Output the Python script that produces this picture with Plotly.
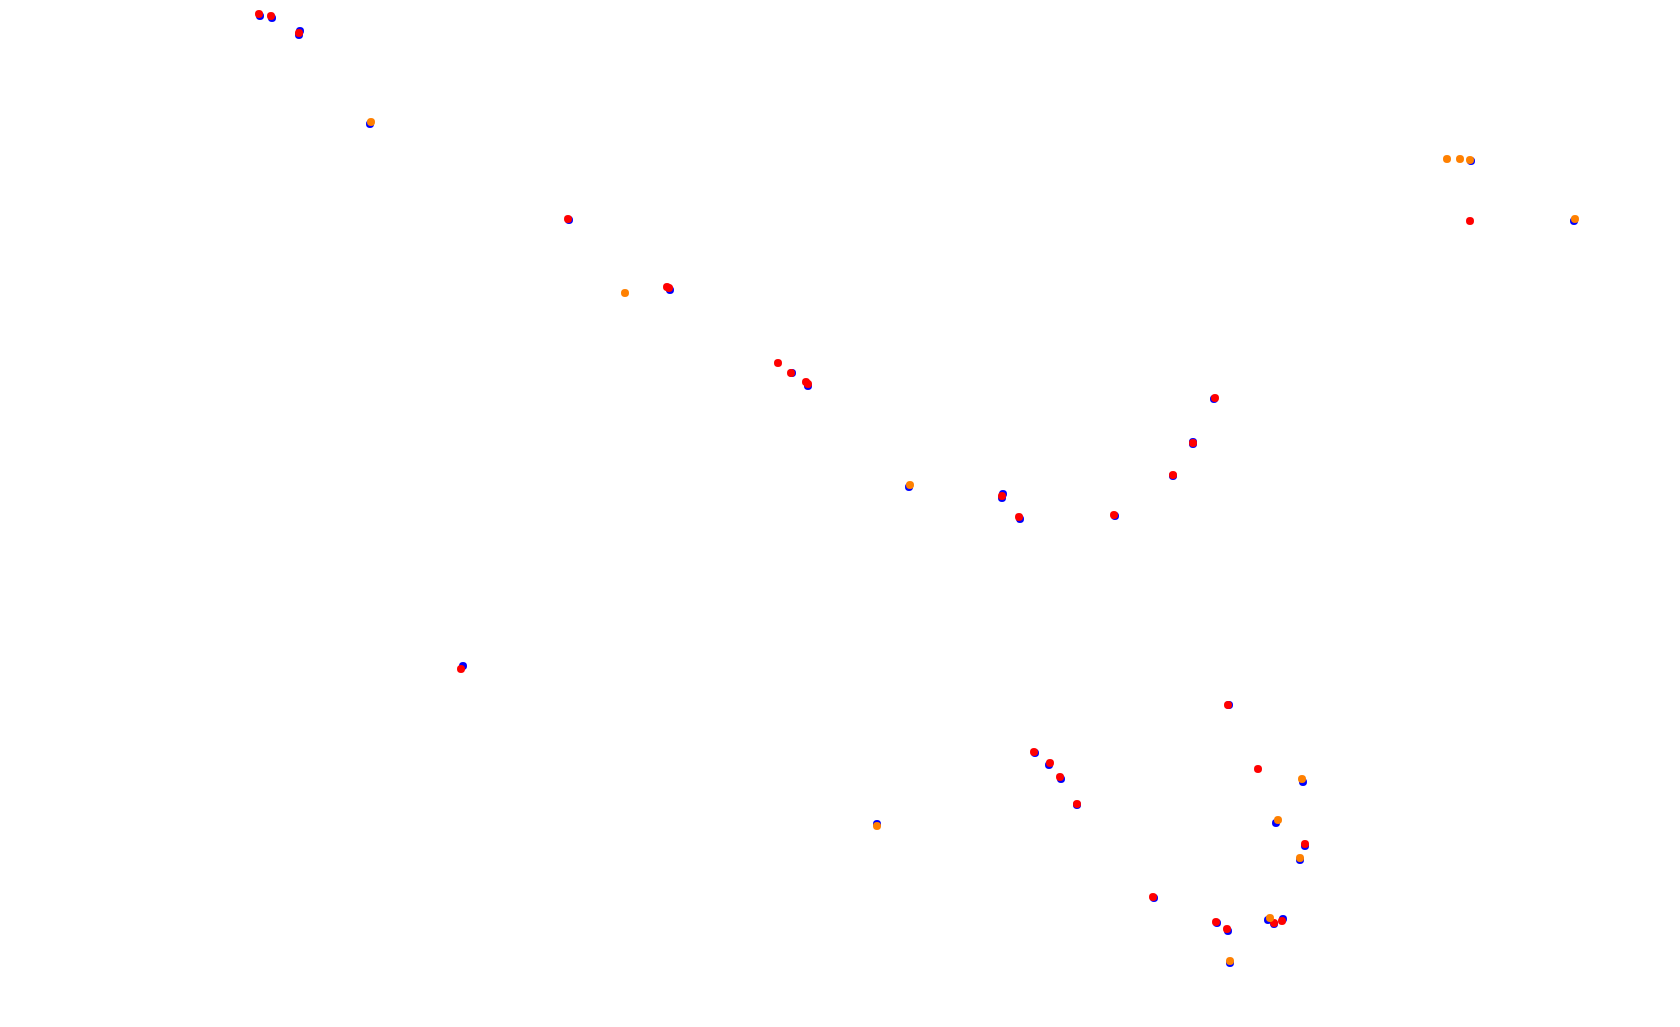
import plotly.graph_objects as go

# Positions (pixel-space coordinates of the 1680x1027 canvas)
blue_x = [260, 272, 300, 299, 370, 569, 670, 792, 808, 909, 1003, 1002, 1020, 1115, 1173, 1193, 1193, 1214,
          1471, 1574, 463, 877, 1035, 1049, 1061, 1077, 1229, 1303, 1276, 1305, 1300, 1154, 1217, 1228, 1268,
          1274, 1283, 1230]
blue_y = [16, 18, 31, 35, 124, 220, 290, 373, 386, 487, 494, 498, 519, 516, 476, 442, 444, 399,
          161, 221, 666, 824, 753, 765, 779, 805, 705, 782, 823, 846, 860, 898, 923, 931, 920,
          924, 919, 963]

red_x = [259, 271, 299, 568, 667, 669, 778, 791, 806, 808, 1002, 1019, 1114, 1173, 1193, 1215, 1470,
         461, 1034, 1050, 1060, 1077, 1228, 1258, 1305, 1153, 1216, 1227, 1274, 1282]
red_y = [14, 16, 33, 219, 287, 288, 363, 373, 382, 384, 496, 517, 515, 475, 443, 398, 221,
         669, 752, 763, 777, 804, 705, 769, 844, 897, 922, 929, 923, 921]

orange_x = [371, 625, 910, 1447, 1460, 1470, 1575, 877, 1302, 1278, 1300, 1270, 1230]
orange_y = [122, 293, 485, 159, 159, 160, 219, 826, 779, 820, 858, 918, 961]

fig = go.Figure()
fig.add_trace(go.Scatter(x=blue_x, y=blue_y, mode="markers",
                         marker=dict(color="#0000ff", size=8, line=dict(width=0)), name="blue"))
fig.add_trace(go.Scatter(x=red_x, y=red_y, mode="markers",
                         marker=dict(color="#ff0000", size=8, line=dict(width=0)), name="red"))
fig.add_trace(go.Scatter(x=orange_x, y=orange_y, mode="markers",
                         marker=dict(color="#ff8000", size=8, line=dict(width=0)), name="orange"))

fig.update_layout(
    width=1680, height=1027,
    margin=dict(l=0, r=0, t=0, b=0),
    paper_bgcolor="white", plot_bgcolor="white",
    showlegend=False,
    xaxis=dict(range=[8, 1688], visible=False, fixedrange=True),
    yaxis=dict(range=[1035, 8], visible=False, fixedrange=True),
)
fig.write_html("out.html", config={"displayModeBar": False})
